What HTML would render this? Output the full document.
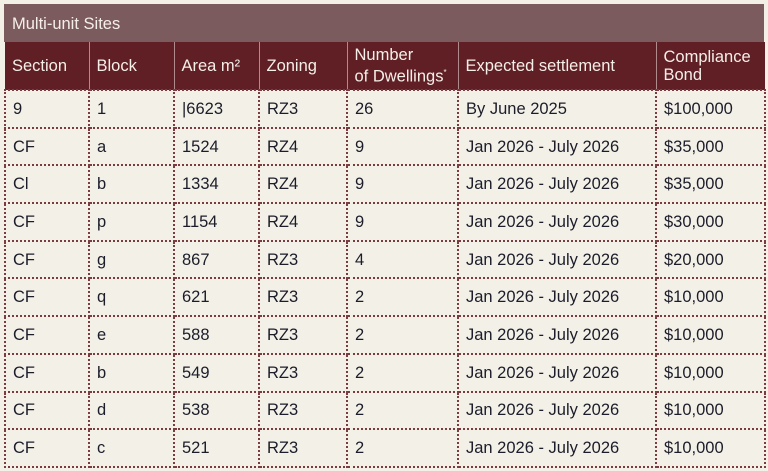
<!DOCTYPE html>
<html><head><style>
body{margin:0;width:768px;height:471px;background:#f3f1e7;font-family:"Liberation Sans",sans-serif;overflow:hidden}
.t{position:absolute;left:4px;top:4px;width:760px;height:38px;background:#7c5b5f;color:#f5efe9;font-size:16.5px;line-height:40px;padding-left:8px;box-sizing:border-box}
table{position:absolute;left:4px;top:42px;border-collapse:collapse;table-layout:fixed;width:760px}
th{background:#5f1f24;color:#f5efe9;font-weight:normal;font-size:16.5px;text-align:left;padding:0 0 0 7px;height:47px;border-left:1px solid #b08a8c;line-height:18px}
th:first-child{border-left:none}
td{font-size:16.5px;line-height:18px;color:#1c1c2a;padding:0 0 0 7px;height:35.7px;border:2px dotted #7a3c40}
</style></head><body>
<div class="t">Multi-unit Sites</div>
<table>
<colgroup><col style="width:84px"><col style="width:85px"><col style="width:85px"><col style="width:88px"><col style="width:111px"><col style="width:198px"><col style="width:109px"></colgroup>
<tr><th>Section</th><th>Block</th><th>Area m²</th><th>Zoning</th><th>Number<br>of Dwellings<sup style="font-size:8px">*</sup></th><th>Expected settlement</th><th>Compliance<br>Bond</th></tr>
<tr><td>9</td><td>1</td><td>|6623</td><td>RZ3</td><td>26</td><td>By June 2025</td><td>$100,000</td></tr>
<tr><td>CF</td><td>a</td><td>1524</td><td>RZ4</td><td>9</td><td>Jan 2026 - July 2026</td><td>$35,000</td></tr>
<tr><td>Cl</td><td>b</td><td>1334</td><td>RZ4</td><td>9</td><td>Jan 2026 - July 2026</td><td>$35,000</td></tr>
<tr><td>CF</td><td>p</td><td>1154</td><td>RZ4</td><td>9</td><td>Jan 2026 - July 2026</td><td>$30,000</td></tr>
<tr><td>CF</td><td>g</td><td>867</td><td>RZ3</td><td>4</td><td>Jan 2026 - July 2026</td><td>$20,000</td></tr>
<tr><td>CF</td><td>q</td><td>621</td><td>RZ3</td><td>2</td><td>Jan 2026 - July 2026</td><td>$10,000</td></tr>
<tr><td>CF</td><td>e</td><td>588</td><td>RZ3</td><td>2</td><td>Jan 2026 - July 2026</td><td>$10,000</td></tr>
<tr><td>CF</td><td>b</td><td>549</td><td>RZ3</td><td>2</td><td>Jan 2026 - July 2026</td><td>$10,000</td></tr>
<tr><td>CF</td><td>d</td><td>538</td><td>RZ3</td><td>2</td><td>Jan 2026 - July 2026</td><td>$10,000</td></tr>
<tr><td>CF</td><td>c</td><td>521</td><td>RZ3</td><td>2</td><td>Jan 2026 - July 2026</td><td>$10,000</td></tr>
</table>
</body></html>
